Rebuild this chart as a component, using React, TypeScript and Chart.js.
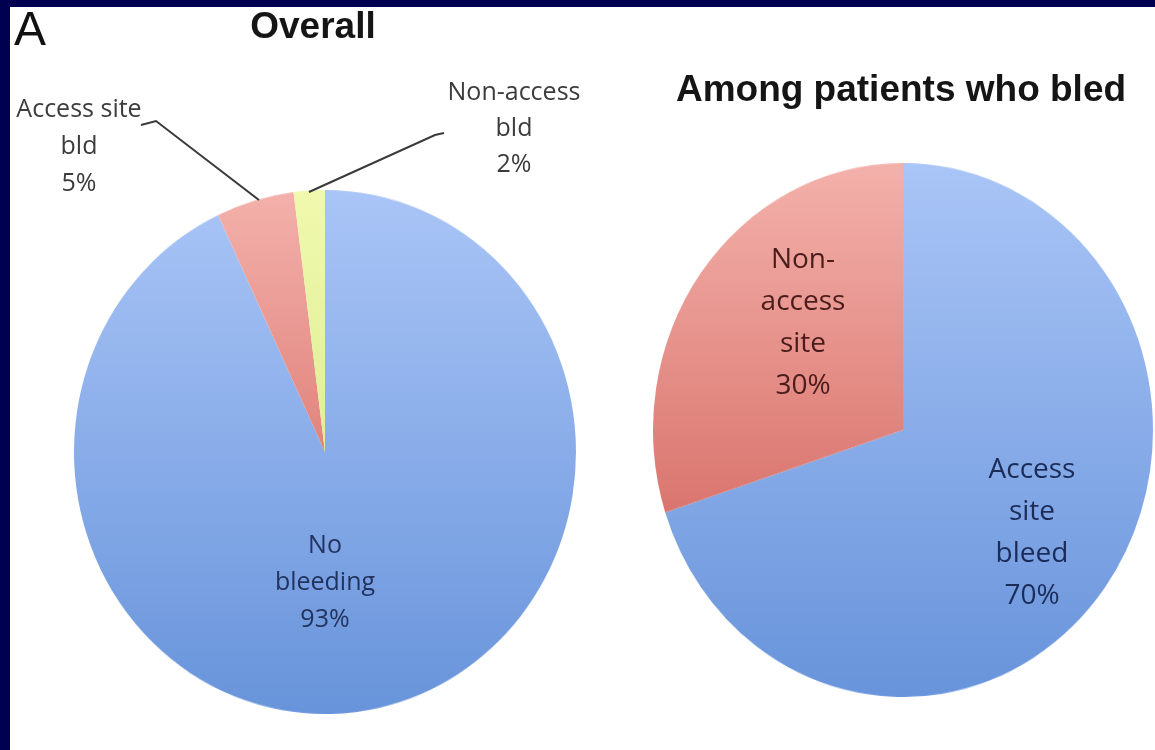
import React, { useEffect, useRef } from "react";
import { Chart, registerables } from "chart.js";

Chart.register(...registerables);

// Overall breakdown of bleeding outcomes (clockwise from 12 o'clock)
const overallCategories = ["No bleeding", "Access site bld", "Non-access bld"];
const overallValues = [93, 5, 2];

// Breakdown among patients who bled (clockwise from 12 o'clock)
const bledCategories = ["Access site bleed", "Non-access site"];
const bledValues = [70, 30];

const panelTitles = ["Overall", "Among patients who bled"];
const panelLetter = "A";

const NAVY = "#000050";
const LABEL_FONT = '"Open Sans", "DejaVu Sans", sans-serif';
const TITLE_FONT = '"Liberation Sans", Arial, sans-serif';

// Vertical colour ramps used for the slices (top colour, bottom colour)
const BLUE: [string, string] = ["#aac5f7", "#6894db"];
const RED: [string, string] = ["#f4b1ab", "#cc564e"];
const YELLOW: [string, string] = ["#f0f9ae", "#cfe57a"];

function rampFill(ramps: [string, string][]) {
  return (ctx: any) => {
    const chart = ctx.chart;
    const area = chart.chartArea;
    const ramp = ramps[ctx.dataIndex % ramps.length];
    if (!area) return ramp[0];
    const g = chart.ctx.createLinearGradient(0, area.top, 0, area.bottom);
    g.addColorStop(0, ramp[0]);
    g.addColorStop(1, ramp[1]);
    return g;
  };
}

type PieProps = {
  labels: string[];
  values: number[];
  ramps: [string, string][];
  cx: number;
  cy: number;
  rx: number;
  ry: number;
};

function Pie({ labels, values, ramps, cx, cy, rx, ry }: PieProps) {
  const ref = useRef<HTMLCanvasElement | null>(null);
  useEffect(() => {
    if (!ref.current) return;
    const chart = new Chart(ref.current, {
      type: "pie",
      data: {
        labels,
        datasets: [
          {
            data: values,
            backgroundColor: rampFill(ramps),
            borderWidth: 0,
            hoverOffset: 0,
          },
        ],
      },
      options: {
        responsive: false,
        animation: false,
        events: [],
        layout: { padding: 0 },
        plugins: { legend: { display: false }, tooltip: { enabled: false } },
      },
    });
    return () => chart.destroy();
  }, []);
  const size = rx * 2;
  return (
    <div
      style={{
        position: "absolute",
        left: cx - rx,
        top: cy - rx,
        width: size,
        height: size,
        transform: `scaleY(${ry / rx})`,
        transformOrigin: "50% 50%",
      }}
    >
      <canvas ref={ref} width={size} height={size} />
    </div>
  );
}

type TextProps = {
  x: number;
  baseline: number; // baseline of first line
  lines: string[];
  size: number;
  lh: number;
  color: string;
  family?: string;
  weight?: number | string;
  ascent?: number;
  descent?: number;
};

function TextBlock({
  x,
  baseline,
  lines,
  size,
  lh,
  color,
  family = LABEL_FONT,
  weight = 400,
  ascent = 1.069,
  descent = 0.293,
}: TextProps) {
  const content = (ascent + descent) * size;
  const top = baseline - ((lh - content) / 2 + ascent * size);
  return (
    <div
      style={{
        position: "absolute",
        left: x - 250,
        top,
        width: 500,
        textAlign: "center",
        fontFamily: family,
        fontSize: size,
        fontWeight: weight as any,
        lineHeight: `${lh}px`,
        color,
        whiteSpace: "nowrap",
      }}
    >
      {lines.map((l, i) => (
        <div key={i}>{l}</div>
      ))}
    </div>
  );
}

function Leaders() {
  return (
    <svg
      width={1155}
      height={750}
      style={{ position: "absolute", left: 0, top: 0, pointerEvents: "none" }}
    >
      <polyline
        points="141,125 156,121 259,200"
        fill="none"
        stroke="#3a3a3a"
        strokeWidth={2}
      />
      <polyline
        points="444,133 435,135 309,192"
        fill="none"
        stroke="#3a3a3a"
        strokeWidth={2}
      />
    </svg>
  );
}

export default function App() {
  useEffect(() => {
    document.body.style.margin = "0";
  }, []);

  const pct = (v: number) => `${v}%`;

  return (
    <div
      style={{
        position: "absolute",
        left: 0,
        top: 0,
        width: 1155,
        height: 750,
        background: NAVY,
        overflow: "hidden",
      }}
    >
      <div
        style={{
          position: "absolute",
          left: 10,
          top: 7,
          right: 0,
          bottom: 0,
          background: "#ffffff",
        }}
      />

      <Pie
        labels={overallCategories}
        values={overallValues}
        ramps={[BLUE, RED, YELLOW]}
        cx={325}
        cy={452}
        rx={251}
        ry={262}
      />
      <Pie
        labels={bledCategories}
        values={bledValues}
        ramps={[BLUE, RED]}
        cx={903}
        cy={430}
        rx={250}
        ry={267}
      />

      <Leaders />

      {/* Panel letter and titles */}
      <TextBlock
        x={30}
        baseline={46}
        lines={[panelLetter]}
        size={48}
        lh={56}
        color="#111"
        family={TITLE_FONT}
        ascent={0.905}
        descent={0.212}
      />
      <TextBlock
        x={313}
        baseline={39}
        lines={[panelTitles[0]]}
        size={37}
        lh={44}
        color="#151515"
        family={TITLE_FONT}
        weight={700}
        ascent={0.905}
        descent={0.212}
      />
      <TextBlock
        x={901}
        baseline={102}
        lines={[panelTitles[1]]}
        size={37}
        lh={44}
        color="#151515"
        family={TITLE_FONT}
        weight={700}
        ascent={0.905}
        descent={0.212}
      />

      {/* Outside labels of the overall pie */}
      <TextBlock
        x={79}
        baseline={117}
        lines={["Access site", "bld", pct(overallValues[1])]}
        size={25}
        lh={37}
        color="#3c3c3c"
      />
      <TextBlock
        x={514}
        baseline={100}
        lines={["Non-access", "bld", pct(overallValues[2])]}
        size={25}
        lh={36}
        color="#3c3c3c"
      />

      {/* Inside labels */}
      <TextBlock
        x={325}
        baseline={553}
        lines={["No", "bleeding", pct(overallValues[0])]}
        size={25}
        lh={37}
        color="#22345e"
      />
      <TextBlock
        x={803}
        baseline={268}
        lines={["Non-", "access", "site", pct(bledValues[1])]}
        size={28}
        lh={42}
        color="#4a1c1c"
      />
      <TextBlock
        x={1032}
        baseline={478}
        lines={["Access", "site", "bleed", pct(bledValues[0])]}
        size={28}
        lh={42}
        color="#1c2c58"
      />
    </div>
  );
}
